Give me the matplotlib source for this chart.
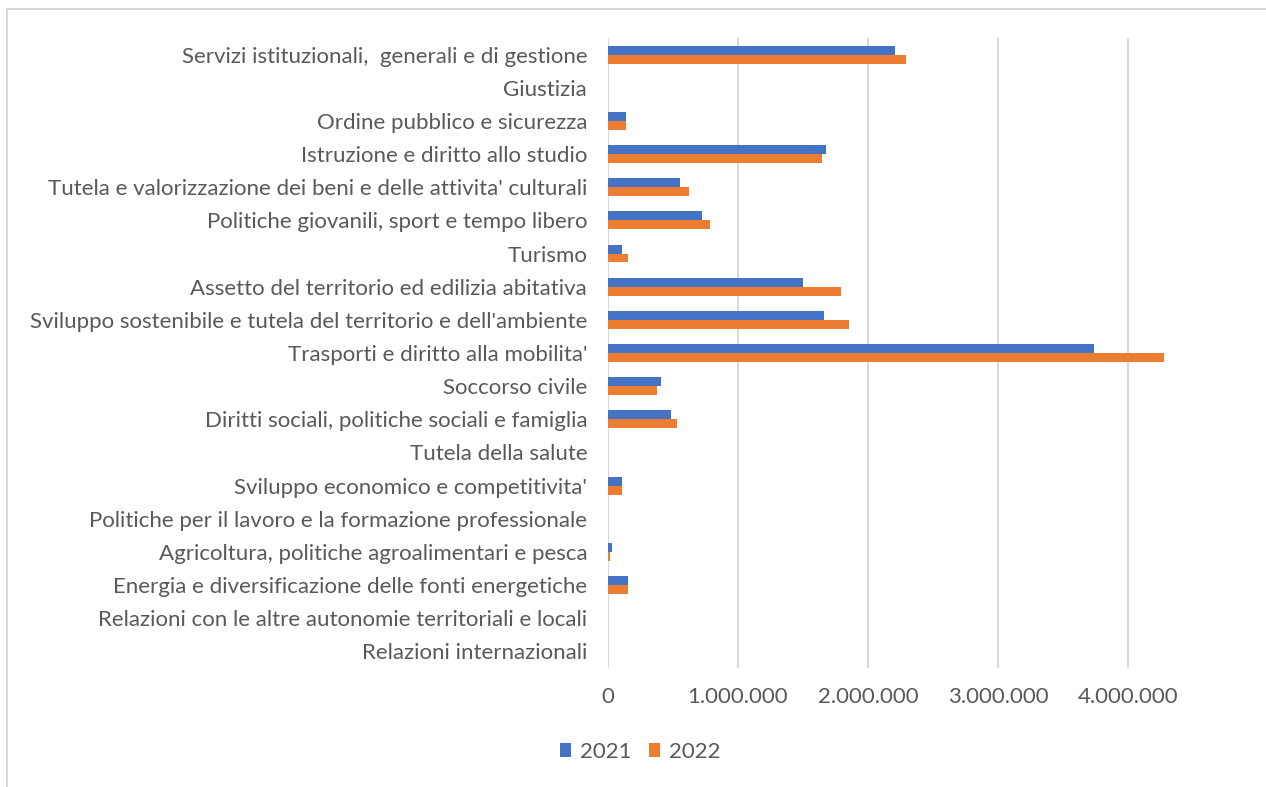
import matplotlib
matplotlib.use("Agg")
import matplotlib.pyplot as plt
from matplotlib.ticker import FuncFormatter, FixedLocator
from matplotlib.patches import Rectangle
import numpy as np

categories = [
    "Servizi istituzionali,  generali e di gestione",
    "Giustizia",
    "Ordine pubblico e sicurezza",
    "Istruzione e diritto allo studio",
    "Tutela e valorizzazione dei beni e delle attivita' culturali",
    "Politiche giovanili, sport e tempo libero",
    "Turismo",
    "Assetto del territorio ed edilizia abitativa",
    "Sviluppo sostenibile e tutela del territorio e dell'ambiente",
    "Trasporti e diritto alla mobilita'",
    "Soccorso civile",
    "Diritti sociali, politiche sociali e famiglia",
    "Tutela della salute",
    "Sviluppo economico e competitivita'",
    "Politiche per il lavoro e la formazione professionale",
    "Agricoltura, politiche agroalimentari e pesca",
    "Energia e diversificazione delle fonti energetiche",
    "Relazioni con le altre autonomie territoriali e locali",
    "Relazioni internazionali",
]
values_2021 = [2210000, 0, 137000, 1675000, 555000, 725000, 108000, 1500000, 1660000,
               3740000, 410000, 482000, 0, 105000, 0, 30000, 157000, 0, 0]
values_2022 = [2290000, 0, 137000, 1647000, 624000, 781000, 150000, 1790000, 1850000,
               4280000, 375000, 530000, 0, 105000, 0, 18000, 157000, 0, 0]
series_names = ["2021", "2022"]
xticks = [0, 1000000, 2000000, 3000000, 4000000]

blue = "#4472C4"
orange = "#ED7D31"
text_col = "#595959"
grid_col = "#D9D9D9"

plt.rcParams['font.family'] = ['Lato', 'DejaVu Sans']

fig = plt.figure(figsize=(12.66, 7.87), dpi=100)
ax = fig.add_axes([608/1266, 1 - 668/787, (1193 - 608)/1266, (668 - 38)/787])

y = np.arange(len(categories))
h = 0.27
ax.barh(y - h/2, values_2021, height=h, color=blue, label=series_names[0], zorder=3)
ax.barh(y + h/2, values_2022, height=h, color=orange, label=series_names[1], zorder=3)

ax.set_ylim(len(categories) - 0.5, -0.5)
ax.set_xlim(0, 4500000)
ax.xaxis.set_major_locator(FixedLocator(xticks))
ax.xaxis.set_major_formatter(FuncFormatter(lambda v, p: f"{int(v):,}".replace(",", ".")))
ax.set_yticks(y)
ax.set_yticklabels(categories)

ax.grid(axis='x', color=grid_col, linewidth=1.5, zorder=0)
for s in ax.spines.values():
    s.set_visible(False)
ax.tick_params(axis='both', length=0, colors=text_col, labelsize=16)
ax.tick_params(axis='y', pad=15)
ax.tick_params(axis='x', pad=14)

leg = fig.legend(loc='center', bbox_to_anchor=(640/1266, 1 - 752/787), ncol=2,
                 frameon=False, fontsize=16, handlelength=0.5, handleheight=0.6,
                 handletextpad=0.4, columnspacing=0.8)
for t in leg.get_texts():
    t.set_color(text_col)

fig.patches.append(Rectangle((7/1266, -0.1), 1.2, 1 - 9/787 + 0.1, transform=fig.transFigure,
                             fill=False, edgecolor="#D9D9D9", linewidth=1.5))

fig.savefig("out.png", dpi=100)
